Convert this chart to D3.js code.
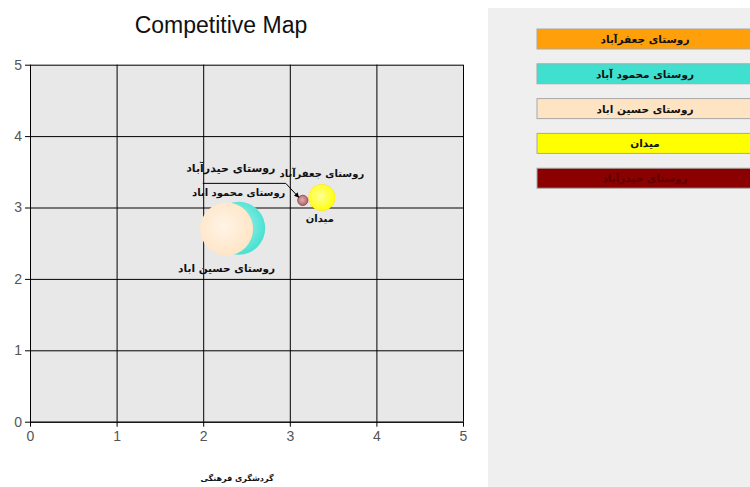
<!DOCTYPE html>
<html>
<head>
<meta charset="utf-8">
<script src="https://cdn.jsdelivr.net/npm/d3@7"></script>
<style>
  body { margin: 0; background: #fff; }
  svg { display: block; }
</style>
</head>
<body>
<div id="chart"></div>
<script>
// series, in legend / drawing order
const names = ['روستای جعفرآباد', 'روستای محمود آباد', 'روستای حسین اباد', 'میدان', 'روستای حیدرآباد'];
const pointLabels = ['روستای جعفرآباد', 'روستای محمود اباد', 'روستای حسین اباد', 'میدان', 'روستای حیدرآباد'];
const xValues = [3.37, 2.41, 2.27, 3.37, 3.15];
const yValues = [3.14, 2.71, 2.70, 3.14, 3.10];
const sizes = [1, 4, 4, 1, 0.15];
const colors = ['#ffa00a', '#40e0d0', '#ffe4c4', '#ffff00', '#8b0000'];
const xTicks = [0, 1, 2, 3, 4, 5];
const yTicks = [0, 1, 2, 3, 4, 5];
const chartTitle = 'Competitive Map';
const xTitle = 'گردشگری فرهنگی';

const width = 750;
const height = 487;
const margin = { top: 64.7, left: 30, right: 287, bottom: 65.3 };

const svg = d3.select('#chart')
  .append('svg')
  .attr('width', width)
  .attr('height', height);

const xScale = d3.scaleLinear().domain([0, 5]).range([margin.left, width - margin.right]);
const yScale = d3.scaleLinear().domain([0, 5]).range([height - margin.bottom, margin.top]);
const rScale = d3.scaleSqrt().domain([0, 4]).range([0, 26.5]);

// gradients for the bubbles
const defs = svg.append('defs');
colors.forEach((c, i) => {
  const g = defs.append('radialGradient')
    .attr('id', 'grad' + i)
    .attr('cx', '45%').attr('cy', '45%').attr('r', '60%');
  g.append('stop').attr('offset', '0%').attr('stop-color', d3.interpolateRgb(c, '#ffffff')(i === 4 ? 0.55 : 0.6));
  g.append('stop').attr('offset', '100%').attr('stop-color', c);
});

// right legend panel
svg.append('rect')
  .attr('x', 488).attr('y', 8)
  .attr('width', width - 488).attr('height', height - 8)
  .attr('fill', '#efefef');

// plot background
svg.append('rect')
  .attr('x', xScale(0)).attr('y', yScale(5))
  .attr('width', xScale(5) - xScale(0))
  .attr('height', yScale(0) - yScale(5))
  .attr('fill', '#e8e8e8');

// gridlines
svg.append('g')
  .attr('transform', `translate(0, ${yScale(0)})`)
  .call(d3.axisBottom(xScale).tickValues(xTicks).tickFormat('').tickSize(-(yScale(0) - yScale(5))))
  .call(g => g.select('.domain').remove())
  .selectAll('line').attr('stroke', '#000');

svg.append('g')
  .attr('transform', `translate(${xScale(0)}, 0)`)
  .call(d3.axisLeft(yScale).tickValues(yTicks).tickFormat('').tickSize(-(xScale(5) - xScale(0))))
  .call(g => g.select('.domain').remove())
  .selectAll('line').attr('stroke', '#000');

// axes
const xAxis = svg.append('g')
  .attr('transform', `translate(0, ${yScale(0)})`)
  .call(d3.axisBottom(xScale).tickValues(xTicks).tickFormat(d3.format('d')).tickSize(5).tickSizeOuter(0).tickPadding(4));
const yAxis = svg.append('g')
  .attr('transform', `translate(${xScale(0)}, 0)`)
  .call(d3.axisLeft(yScale).tickValues(yTicks).tickFormat(d3.format('d')).tickSize(5).tickSizeOuter(0).tickPadding(3));

[xAxis, yAxis].forEach(a => {
  a.select('.domain').attr('stroke', '#000');
  a.selectAll('.tick line').attr('stroke', '#000');
  a.selectAll('.tick text')
    .attr('fill', '#555')
    .style('font-family', 'Liberation Sans, Arial, sans-serif')
    .style('font-size', '14px');
});

// bubbles
const series = names.map((name, i) => ({
  name, label: pointLabels[i], x: xValues[i], y: yValues[i], size: sizes[i], color: colors[i], i
}));

svg.append('g')
  .selectAll('circle')
  .data(series)
  .join('circle')
  .attr('cx', d => xScale(d.x))
  .attr('cy', d => yScale(d.y))
  .attr('r', d => rScale(d.size))
  .attr('fill', d => `url(#grad${d.i})`)
  .attr('fill-opacity', d => d.i === 4 ? 0.6 : 1)
  .attr('stroke', d => d.i === 4 ? '#a03040' : 'none')
  .attr('stroke-width', 0.8);

// point labels (offsets from each point, in px)
const labelOffset = [[0, -21], [0, -32], [0, 43], [-2, 24], [-72, -28]];
const labelSize = [10, 10, 10.5, 10, 11];
const labelFont = 'DejaVu Sans, Tahoma, sans-serif';

svg.append('g')
  .selectAll('text')
  .data(series)
  .join('text')
  .attr('x', d => xScale(d.x) + labelOffset[d.i][0])
  .attr('y', d => yScale(d.y) + labelOffset[d.i][1])
  .attr('text-anchor', 'middle')
  .attr('direction', 'rtl')
  .style('font-family', labelFont)
  .style('font-size', d => labelSize[d.i] + 'px')
  .style('font-weight', 'bold')
  .attr('fill', '#111')
  .text(d => d.label);

// callout line for the small point
const hd = series[4];
const px = xScale(hd.x), py = yScale(hd.y);
defs.append('marker')
  .attr('id', 'arrow')
  .attr('viewBox', '0 0 10 10')
  .attr('refX', 9).attr('refY', 5)
  .attr('markerWidth', 5).attr('markerHeight', 5)
  .attr('orient', 'auto')
  .append('path').attr('d', 'M0,0 L10,5 L0,10 z').attr('fill', '#000');

svg.append('path')
  .attr('d', `M${px - 100},${py - 17} L${px - 17},${py - 17} L${px - 4},${py - 3}`)
  .attr('fill', 'none')
  .attr('stroke', '#000')
  .attr('stroke-width', 1)
  .attr('marker-end', 'url(#arrow)');

// title
svg.append('text')
  .attr('x', 221).attr('y', 33)
  .attr('text-anchor', 'middle')
  .style('font-family', 'Liberation Sans, Arial, sans-serif')
  .style('font-size', '23px')
  .attr('fill', '#111')
  .text(chartTitle);

// x axis title
svg.append('text')
  .attr('x', 237).attr('y', 481)
  .attr('text-anchor', 'middle')
  .attr('direction', 'rtl')
  .style('font-family', labelFont)
  .style('font-size', '8px')
  .style('font-weight', 'bold')
  .attr('fill', '#111')
  .text(xTitle);

// legend
const legend = svg.append('g')
  .selectAll('g')
  .data(series)
  .join('g')
  .attr('transform', d => `translate(537, ${29 + d.i * 34.8})`);

legend.append('rect')
  .attr('width', 216).attr('height', 20)
  .attr('fill', d => d.color)
  .attr('stroke', '#a8a8a8')
  .attr('stroke-width', 1);

legend.append('text')
  .attr('x', 108).attr('y', 14)
  .attr('text-anchor', 'middle')
  .attr('direction', 'rtl')
  .style('font-family', labelFont)
  .style('font-size', '10.5px')
  .style('font-weight', 'bold')
  .attr('fill', d => d.i === 4 ? '#5a0000' : '#111')
  .text(d => d.name);
</script>
</body>
</html>
